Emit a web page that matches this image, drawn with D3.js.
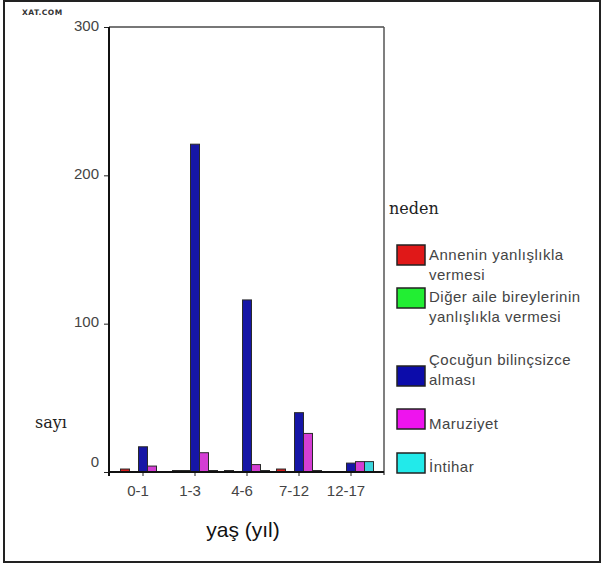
<!DOCTYPE html>
<html>
<head>
<meta charset="utf-8">
<script src="https://cdn.jsdelivr.net/npm/d3@7"></script>
<style>
  body { margin: 0; background: #fff; }
  svg { display: block; }
</style>
</head>
<body>
<div id="chart"></div>
<script>

// yaş grupları
var categories = ["0-1", "1-3", "4-6", "7-12", "12-17"];

// neden (seriler)
var seriesNames = [
  "Annenin yanlışlıkla vermesi",
  "Diğer aile bireylerinin yanlışlıkla vermesi",
  "Çocuğun bilinçsizce alması",
  "Maruziyet",
  "İntihar"
];

// legend text, wrapped as in the picture
var legendLines = [
  ["Annenin yanlışlıkla", "vermesi"],
  ["Diğer aile bireylerinin", "yanlışlıkla vermesi"],
  ["Çocuğun bilinçsizce", "alması"],
  ["Maruziyet"],
  ["İntihar"]
];

// sayı per series, one value per age group
var annenin   = [2, 1, 1, 2, 0];
var diger     = [0, 1, 0, 0, 0];
var cocugun   = [17, 221, 116, 40, 6];
var maruziyet = [4, 13, 5, 26, 7];
var intihar   = [0, 1, 1, 1, 7];

var yTicks = [0, 100, 200, 300];

var seriesValues = [annenin, diger, cocugun, maruziyet, intihar];

(function(){

  var width = 605,
      height = 566;

  var barColors = ["#d81c1c", "#22dd22", "#1616a6", "#d43ed4", "#3cd6de"];
  var legendColors = ["#e01818", "#22ee33", "#0c0caa", "#ee14ee", "#22eaea"];

  var plot = {left: 109, right: 384, top: 27, bottom: 472};

  var svg = d3.select("#chart").append("svg")
      .attr("width", width)
      .attr("height", height);

  // outer frame
  svg.append("rect")
      .attr("x", 4).attr("y", 1)
      .attr("width", 596).attr("height", 561)
      .attr("fill", "none")
      .attr("stroke", "#222")
      .attr("stroke-width", 2);

  var x0 = d3.scaleBand()
      .domain(categories)
      .range([117, 377])
      .padding(0);

  var x1 = d3.scaleBand()
      .domain(d3.range(seriesNames.length))
      .range([0, 45]);

  var y = d3.scaleLinear()
      .domain([0, 300])
      .range([plot.bottom, plot.top]);

  // plot frame: top and right in grey
  svg.append("line")
      .attr("x1", plot.left).attr("x2", plot.right)
      .attr("y1", plot.top).attr("y2", plot.top)
      .attr("stroke", "#777").attr("stroke-width", 2);
  svg.append("line")
      .attr("x1", plot.right).attr("x2", plot.right)
      .attr("y1", plot.top).attr("y2", plot.bottom + 3)
      .attr("stroke", "#555").attr("stroke-width", 1.5);

  // bars
  var groups = svg.selectAll("g.grp")
      .data(categories)
    .enter().append("g")
      .attr("class", "grp")
      .attr("transform", function(d){ return "translate(" + (x0(d) + (x0.bandwidth() - 45) / 2) + ",0)"; });

  groups.selectAll("rect")
      .data(function(d, i){
        return seriesValues.map(function(s, j){ return {s: j, v: s[i]}; });
      })
    .enter().append("rect")
      .filter(function(d){ return d.v > 0; })
      .attr("x", function(d){ return x1(d.s); })
      .attr("width", x1.bandwidth())
      .attr("y", function(d){ return y(d.v); })
      .attr("height", function(d){ return y(0) - y(d.v); })
      .attr("fill", function(d){ return barColors[d.s]; })
      .attr("stroke", "#2a2a2a")
      .attr("stroke-width", 1);

  // y axis
  var yAxis = d3.axisLeft(y)
      .tickValues(yTicks)
      .tickSize(5)
      .tickSizeOuter(0)
      .tickPadding(5);

  var gy = svg.append("g")
      .attr("transform", "translate(" + plot.left + ",0)")
      .call(yAxis);
  gy.select(".domain").remove();
  gy.selectAll("line").attr("stroke", "#222");
  gy.selectAll("text")
      .attr("font-family", "Liberation Sans, Arial, sans-serif")
      .attr("font-size", 15)
      .attr("fill", "#444")
      .attr("dy", function(d){ return d === 0 ? "-0.4em" : "0.2em"; });

  svg.append("line")
      .attr("x1", plot.left).attr("x2", plot.left)
      .attr("y1", plot.top).attr("y2", plot.bottom + 4)
      .attr("stroke", "#111").attr("stroke-width", 2);

  // x axis
  var xAxis = d3.axisBottom(x0)
      .tickSize(4)
      .tickSizeOuter(0)
      .tickPadding(9);

  var gx = svg.append("g")
      .attr("transform", "translate(0," + plot.bottom + ")")
      .call(xAxis);
  gx.select(".domain").remove();
  gx.selectAll("line").attr("stroke", "#222");
  gx.selectAll("text")
      .attr("font-family", "Liberation Sans, Arial, sans-serif")
      .attr("font-size", 15)
      .attr("fill", "#444")
      .attr("dx", -5);

  svg.append("line")
      .attr("x1", plot.left - 1).attr("x2", plot.right)
      .attr("y1", plot.bottom).attr("y2", plot.bottom)
      .attr("stroke", "#111").attr("stroke-width", 2);

  // titles
  svg.append("text")
      .attr("x", 243).attr("y", 537)
      .attr("text-anchor", "middle")
      .attr("font-family", "Liberation Sans, Arial, sans-serif")
      .attr("font-size", 21)
      .attr("fill", "#111")
      .text("yaş (yıl)");

  svg.append("text")
      .attr("x", 35).attr("y", 428)
      .attr("font-family", "DejaVu Serif, serif")
      .attr("font-size", 16)
      .attr("fill", "#222")
      .text("sayı");

  svg.append("text")
      .attr("x", 22).attr("y", 15)
      .attr("font-family", "DejaVu Sans, sans-serif")
      .attr("font-weight", "bold")
      .attr("font-size", 7.5)
      .attr("letter-spacing", 0.5)
      .attr("fill", "#333")
      .text("XAT.COM");

  // legend
  svg.append("text")
      .attr("x", 389).attr("y", 214)
      .attr("font-family", "DejaVu Serif, serif")
      .attr("font-size", 16)
      .attr("fill", "#222")
      .text("neden");

  var swatchTop = [245, 288, 366, 409, 453];
  var textTop   = [260, 302, 365, 429, 472];

  var legend = svg.selectAll("g.legend")
      .data(seriesNames)
    .enter().append("g")
      .attr("class", "legend");

  legend.append("rect")
      .attr("x", 397)
      .attr("y", function(d, i){ return swatchTop[i]; })
      .attr("width", 28)
      .attr("height", 20)
      .attr("fill", function(d, i){ return legendColors[i]; })
      .attr("stroke", "#222")
      .attr("stroke-width", 1.5);

  legend.each(function(d, i){
    var t = d3.select(this).append("text")
        .attr("x", 429)
        .attr("y", textTop[i])
        .attr("font-family", "Liberation Sans, Arial, sans-serif")
        .attr("font-size", 15)
        .attr("letter-spacing", 0.5)
        .attr("fill", "#444");
    legendLines[i].forEach(function(line, k){
      t.append("tspan")
          .attr("x", 429)
          .attr("dy", k === 0 ? 0 : 20)
          .text(line);
    });
  });

})();
</script>
</body>
</html>
